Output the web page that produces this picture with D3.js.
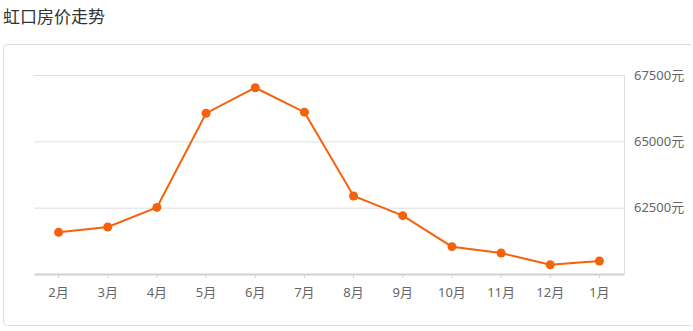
<!DOCTYPE html>
<html>
<head>
<meta charset="utf-8">
<script src="https://cdn.jsdelivr.net/npm/d3@7"></script>
<style>
  body { margin: 0; background: #fff; }
  svg { display: block; font-family: "Noto Sans", "Noto Sans CJK SC", sans-serif; }
</style>
</head>
<body>
<script>
// chart data
const months = ['2月', '3月', '4月', '5月', '6月', '7月', '8月', '9月', '10月', '11月', '12月', '1月'];
const prices = [61570, 61770, 62510, 66060, 67020, 66100, 62940, 62200, 61030, 60790, 60350, 60490];
const yTicks = [62500, 65000, 67500];

const w = 693, h = 331;
const margin = { top: 75, right: 69, bottom: 57, left: 34 };
const plotRight = w - margin.right;
const plotBottom = h - margin.bottom;
const orange = '#f4620c';

const svg = d3.select('body').append('svg')
        .attr('width', w)
        .attr('height', h);

// title
svg.append('text')
        .text('虹口房价走势')
        .attr('x', 3)
        .attr('y', 23)
        .attr('font-family', '"Noto Sans CJK SC", sans-serif')
        .attr('font-size', 17)
        .attr('fill', '#333');

// outer box: top and bottom edges stop just short of the window edge
svg.append('line')
        .attr('x1', 8).attr('x2', w - 2)
        .attr('y1', 44.5).attr('y2', 44.5)
        .attr('stroke', '#dcdcdc');
svg.append('line')
        .attr('x1', 8).attr('x2', w - 2)
        .attr('y1', 325.5).attr('y2', 325.5)
        .attr('stroke', '#dcdcdc');
const side = d3.path();
side.moveTo(8, 44.5);
side.arcTo(3.5, 44.5, 3.5, 49, 4);
side.lineTo(3.5, 321);
side.arcTo(3.5, 325.5, 8, 325.5, 4);
svg.append('path')
        .attr('d', side.toString())
        .attr('fill', 'none')
        .attr('stroke', '#dcdcdc');

const xScale = d3.scaleBand()
        .domain(months)
        .range([margin.left, plotRight]);

const yScale = d3.scaleLinear()
        .domain([60000, 67500])
        .range([plotBottom, margin.top]);

const xPos = d => xScale(d) + xScale.bandwidth() / 2;

// grid lines
const yAxis = d3.axisRight(yScale)
        .tickValues(yTicks)
        .tickSize(plotRight - margin.left)
        .tickFormat('');

const yAxisG = svg.append('g').call(yAxis)
        .attr('transform', `translate(${margin.left},0)`);
yAxisG.select('.domain').remove();
yAxisG.selectAll('.tick line').attr('stroke', '#dddddd');

// price labels on the right
svg.selectAll('.ylabel')
        .data(yTicks)
        .enter()
        .append('text')
        .attr('class', 'ylabel')
        .attr('x', plotRight + 10)
        .attr('y', d => yScale(d) + 4.5)
        .attr('font-size', 13)
        .attr('fill', '#666')
        .text(d => d + '元');

// right border of plot
svg.append('line')
        .attr('x1', plotRight + 0.5)
        .attr('x2', plotRight + 0.5)
        .attr('y1', margin.top)
        .attr('y2', plotBottom)
        .attr('stroke', '#dddddd');

// x axis
const xAxis = d3.axisBottom(xScale)
        .tickSize(4)
        .tickSizeOuter(0)
        .tickFormat('');

const xAxisG = svg.append('g').call(xAxis)
        .attr('transform', `translate(0, ${plotBottom})`);
xAxisG.select('.domain')
        .attr('stroke', '#d0d0d0')
        .attr('stroke-width', 2);
xAxisG.selectAll('.tick line').attr('stroke', '#d0d0d0');

svg.selectAll('.xlabel')
        .data(months)
        .enter()
        .append('text')
        .attr('class', 'xlabel')
        .attr('x', xPos)
        .attr('y', plotBottom + 23)
        .attr('text-anchor', 'middle')
        .attr('font-size', 13)
        .attr('fill', '#666')
        .text(d => d);

// line
const line = d3.line()
        .x((d, i) => xPos(months[i]))
        .y(d => yScale(d));

svg.append('path')
        .datum(prices)
        .attr('d', line)
        .attr('fill', 'none')
        .attr('stroke', orange)
        .attr('stroke-width', 2);

svg.selectAll('circle')
        .data(prices)
        .enter()
        .append('circle')
        .attr('cx', (d, i) => xPos(months[i]))
        .attr('cy', d => yScale(d))
        .attr('r', 4.5)
        .attr('fill', orange);
</script>
</body>
</html>
